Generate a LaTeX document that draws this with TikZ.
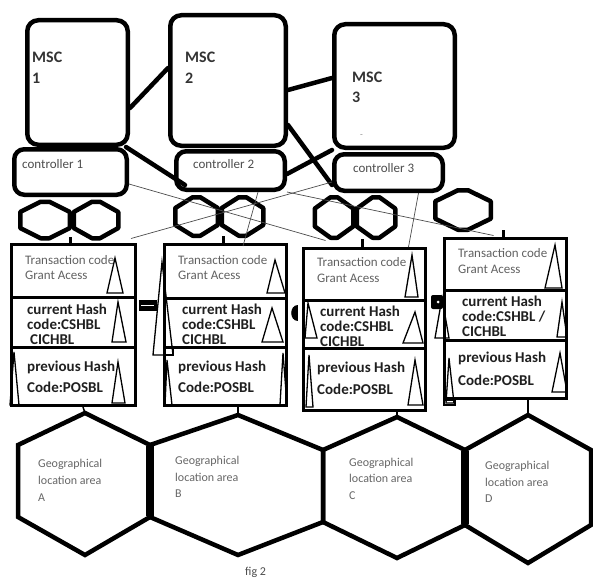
\documentclass[tikz,border=0pt]{standalone}
\usepackage{fontspec}
\setmainfont{Carlito}
\begin{document}
\begin{tikzpicture}[x=1pt,y=-1pt,
  box/.style={draw, line width=4.5pt, rounded corners=10pt, inner sep=0pt},
  rowbox/.style={draw, line width=3pt, inner sep=0pt},
  hexline/.style={line width=4.5pt, line join=round},
  bighex/.style={line width=4.5pt, line join=miter},
  link/.style={line width=4.5pt, line cap=round},
  thinlink/.style={line width=0.7pt, draw=black!70},
  tri/.style={line width=1.3pt, line join=miter},
  tick/.style={line width=3pt},
  thintick/.style={line width=1.5pt},
  lbl/.style={anchor=base west, inner sep=0pt, text=black!62, font=\fontsize{13}{15}\selectfont},
  blbl/.style={anchor=base west, inner sep=0pt, text=black!88, font=\fontsize{15}{15}\selectfont\bfseries},
  msct/.style={anchor=base west, inner sep=0pt, text=black!80, font=\fontsize{16}{20}\selectfont\bfseries},
  geo/.style={anchor=base west, inner sep=0pt, text=black!60, font=\fontsize{12}{16}\selectfont},
  shex/.pic={\draw[hexline] (-0.09,-0.5)--(0.09,-0.5)--(0.5,-0.22)--(0.5,0.22)--(0.09,0.5)--(-0.09,0.5)--(-0.5,0.22)--(-0.5,-0.22)--cycle;}
]
\useasboundingbox (0,0) rectangle (593,578);

% ---------- MSC and controllers
\node[box, rounded corners=11pt, minimum width=100.5pt, minimum height=124.5pt] (msc1) at (77.5,82.5) {};
\node[box, minimum width=112.5pt, minimum height=45.5pt] (ctl1) at (70.5,172) {};
\node[box, rounded corners=11pt, minimum width=115.5pt, minimum height=130.5pt] (msc2) at (228,80.5) {};
\node[box, minimum width=108.5pt, minimum height=38.5pt] (ctl2) at (230.5,170.5) {};
\node[box, rounded corners=11pt, minimum width=120.5pt, minimum height=123.5pt] (msc3) at (394.5,86) {};
\node[box, minimum width=108.5pt, minimum height=36.5pt] (ctl3) at (388.5,172.5) {};

\node[msct] (m1a) at (32,63) {MSC};
\node[msct] (m1b) at (32,83) {1};
\node[msct] (m2a) at (185,63) {MSC};
\node[msct] (m2b) at (185,83) {2};
\node[msct] (m3a) at (352,82) {MSC};
\node[msct] (m3b) at (352,102) {3};
\node[lbl, text=black!45, font=\fontsize{9}{10}\selectfont] (m3c) at (360,137) {-};

\node[lbl, text=black!70] (c1t) at (22,168) {controller 1};
\node[lbl, text=black!70] (c2t) at (193,168) {controller 2};
\node[lbl, text=black!70] (c3t) at (353,172) {controller 3};

% ---------- small hexagons
\pic[xscale=49.5, yscale=36.5] (hA1) at (45,220) {shex};
\pic[xscale=44.5, yscale=36.5] (hA2) at (96,220) {shex};
\pic[xscale=42.5, yscale=38.5] (hB1) at (196.5,216.5) {shex};
\pic[xscale=41.5, yscale=38.5] (hB2) at (242.5,216.5) {shex};
\pic[xscale=38.5, yscale=40.5] (hC1) at (334,217.5) {shex};
\pic[xscale=38.5, yscale=40.5] (hC2) at (376,217.5) {shex};
\pic[xscale=55.5, yscale=39.5] (hD) at (463,210) {shex};

% ---------- transaction boxes (rows)
\node[rowbox, minimum width=124pt, minimum height=52.5pt] (A1) at (73.5,270.75) {};
\node[rowbox, minimum width=124pt, minimum height=50pt]   (A2) at (73.5,322) {};
\node[rowbox, minimum width=124pt, minimum height=58.5pt] (A3) at (73.5,376.25) {};
\node[rowbox, minimum width=122pt, minimum height=53.5pt] (B1) at (225.5,271.25) {};
\node[rowbox, minimum width=122pt, minimum height=49pt]   (B2) at (225.5,322.5) {};
\node[rowbox, minimum width=122pt, minimum height=58.5pt] (B3) at (225.5,376.25) {};
\node[rowbox, minimum width=122pt, minimum height=51.5pt] (C1) at (364.5,274.25) {};
\node[rowbox, minimum width=122pt, minimum height=48pt]   (C2) at (364.5,324) {};
\node[rowbox, minimum width=122pt, minimum height=62.5pt] (C3) at (364.5,379.25) {};
\node[rowbox, minimum width=122pt, minimum height=51.5pt] (D1) at (505.5,264.25) {};
\node[rowbox, minimum width=122pt, minimum height=50pt]   (D2) at (505.5,315) {};
\node[rowbox, minimum width=122pt, minimum height=58.5pt] (D3) at (505.5,369.25) {};

% texts box A
\node[lbl] (a1a) at (25,264) {Transaction code};
\node[lbl] (a1b) at (25,279) {Grant Acess};
\node[blbl] (a2a) at (27,314) {current Hash};
\node[blbl] (a2b) at (27,329) {code:CSHBL};
\node[blbl] (a2c) at (30,344) {CICHBL};
\node[blbl] (a3a) at (27,371) {previous Hash};
\node[blbl] (a3b) at (27,392) {Code:POSBL};
% texts box B
\node[lbl] (b1a) at (178,264) {Transaction code};
\node[lbl] (b1b) at (178,279) {Grant Acess};
\node[blbl] (b2a) at (182,314) {current Hash};
\node[blbl] (b2b) at (182,329) {code:CSHBL};
\node[blbl] (b2c) at (182,344) {CICHBL};
\node[blbl] (b3a) at (178,371) {previous Hash};
\node[blbl] (b3b) at (178,392) {Code:POSBL};
% texts box C
\node[lbl] (cc1a) at (317,266) {Transaction code};
\node[lbl] (cc1b) at (317,282) {Grant Acess};
\node[blbl] (cc2a) at (320,316) {current Hash};
\node[blbl] (cc2b) at (320,331) {code:CSHBL};
\node[blbl] (cc2c) at (320,346) {CICHBL};
\node[blbl] (cc3a) at (317,372) {previous Hash};
\node[blbl] (cc3b) at (317,394) {Code:POSBL};
% texts box D
\node[lbl] (d1a) at (458,257) {Transaction code};
\node[lbl] (d1b) at (458,273) {Grant Acess};
\node[blbl] (d2a) at (462,306) {current Hash};
\node[blbl] (d2b) at (462,321) {code:CSHBL /};
\node[blbl] (d2c) at (462,336) {CICHBL};
\node[blbl] (d3a) at (458,362) {previous Hash};
\node[blbl] (d3b) at (458,385) {Code:POSBL};

% ---------- triangles
\draw[tri] (107,293)--(115,258)--(123,293)--cycle;
\draw[tri] (112,342)--(118,302)--(126,342)--cycle;
\draw[tri] (112,403)--(118,362)--(125,403)--cycle;
\draw[tri] (10,405)--(14,352)--(19,405)--cycle;
\draw[tri] (153,355)--(162,262)--(173,355)--cycle;
\draw[tri] (165,347) rectangle (173,355);
\draw[tri] (267,293)--(275,260)--(285,293)--cycle;
\draw[tri] (262,342)--(272,308)--(283,342)--cycle;
\draw[tri] (280,405)--(283,353)--(287,405)--cycle;
\draw[tri] (165,405)--(167,360)--(172,405)--cycle;
\draw[tri] (405,297)--(412,255)--(418,297)--cycle;
\draw[tri] (403,343)--(415,312)--(423,343)--cycle;
\draw[tri] (408,405)--(415,360)--(423,405)--cycle;
\draw[tri] (305,338)--(308,303)--(317,338)--cycle;
\draw[tri] (306,407)--(309,355)--(313,407)--cycle;
\draw[tri] (545,288)--(555,245)--(562,288)--cycle;
\draw[tri] (557,337)--(562,302)--(567,337)--cycle;
\draw[tri] (552,392)--(560,353)--(567,392)--cycle;
\draw[tri] (435,338)--(442,298)--(449,338)--cycle;
\draw[tri] (446,403)--(449,358)--(454,403)--cycle;
\draw[tri] (444,400) rectangle (455,405);

% ---------- joints between boxes
\fill (139,300) rectangle (157,311);
\draw[white, line width=1.5pt] (141,305.5) -- (154,305.5);
\fill (298,305) .. controls (289,305) and (289,321) .. (298,321) -- cycle;
\fill[rounded corners=2pt] (431,295) rectangle (443,309);
\fill[white] (438,302) circle (1.5);

% ---------- big hexagons
\coordinate (HAt) at (85,413);
\coordinate (HBt) at (238,415);
\coordinate (HCt) at (397,417);
\coordinate (HDt) at (528,415);
\draw[bighex] (HAt)--(150,445)--(150,517)--(85,555)--(18,517)--(18,445)--cycle;
\draw[bighex] (HBt)--(323,450)--(323,522)--(238,555)--(150,517)--(150,445)--cycle;
\draw[bighex] (HCt)--(465,450)--(465,525)--(397,558)--(323,522)--(323,450)--cycle;
\draw[bighex] (HDt)--(591,450)--(591,525)--(528,563)--(465,525)--(465,450)--cycle;
\draw[line width=7.5pt] (150,446) -- (150,516);
\draw[line width=7.5pt] (465,451) -- (465,524);

\node[geo] (ga1) at (38,467) {Geographical};
\node[geo] (ga2) at (38,484) {location area};
\node[geo] (ga3) at (38,501) {A};
\node[geo] (gb1) at (175,464) {Geographical};
\node[geo] (gb2) at (175,481) {location area};
\node[geo] (gb3) at (175,497) {B};
\node[geo] (gc1) at (349,466) {Geographical};
\node[geo] (gc2) at (349,482) {location area};
\node[geo] (gc3) at (349,499) {C};
\node[geo] (gd1) at (485,469) {Geographical};
\node[geo] (gd2) at (485,486) {location area};
\node[geo] (gd3) at (485,502) {D};
\node[geo, text=black!70] (fig) at (245,575) {fig 2};

% ---------- ticks
\draw[tick] ([xshift=-3.5pt]A1.north) -- ++(0,-6);
\draw[tick] ([xshift=-2.5pt]B1.north) -- ++(0,-7);
\draw[tick] ([xshift=-2.5pt]C1.north) -- ++(0,-8);
\draw[tick] ([xshift=-2.5pt]D1.north) -- ++(0,-7);
\draw[thintick] ([xshift=9.5pt]A3.south) -- (HAt);
\draw[thintick] ([xshift=12.5pt]B3.south) -- (HBt);
\draw[thintick] ([xshift=32.5pt]C3.south) -- (HCt);
\draw[thintick] ([xshift=22.5pt]D3.south) -- (HDt);

% ---------- thick links
\draw[link] ([yshift=-25.5pt]msc1.east) -- ([yshift=12.5pt]msc2.west);
\draw[link] ([yshift=-9.5pt]msc2.east) -- ([yshift=8pt]msc3.west);
\draw[link] ([xshift=-4pt]msc1.south east) -- ([shift={(11pt,7pt)}]ctl2.south west);
\draw[link] ([yshift=-44.5pt]msc2.east) -- ([yshift=-12.5pt]ctl3.west);
\draw[link] ([yshift=-3.5pt]ctl2.east) -- (msc3.south west);

% ---------- thin links
\draw[thinlink] ([yshift=-12pt]ctl1.east) -- ([shift={(23.5pt,6.5pt)}]C1.north west);
\draw[thinlink] ([shift={(-6pt,4.5pt)}]A1.north east) -- ([yshift=-9.5pt]ctl3.west);
\draw[thinlink] (ctl2.south east) -- ([shift={(50.5pt,1.5pt)}]D1.north west);
\draw[thinlink] ([xshift=30pt]ctl3.south) -- ([xshift=44pt]C1.north);
\draw[thinlink] ([xshift=27.5pt]ctl2.south) -- ([xshift=17.5pt,yshift=-3pt]B1.north);
\end{tikzpicture}
\end{document}
